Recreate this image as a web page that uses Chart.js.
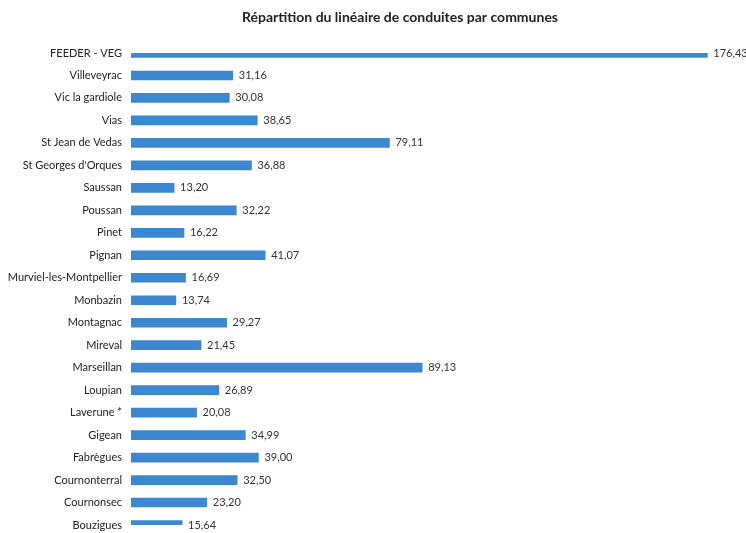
<!DOCTYPE html>
<html>
<head>
<meta charset="utf-8">
<script src="https://cdn.jsdelivr.net/npm/chart.js@4/dist/chart.umd.min.js"></script>
<style>
  html, body { margin: 0; padding: 0; background: #fff; overflow: hidden; }
  #wrap { width: 746px; height: 533px; position: relative; }
</style>
</head>
<body>
<div id="wrap"><canvas id="linChart"></canvas></div>
<script>
// Linéaire de conduites par commune (km)
const communes = [
    'FEEDER - VEG', 'Villeveyrac', 'Vic la gardiole', 'Vias', 'St Jean de Vedas',
    'St Georges d\'Orques', 'Saussan', 'Poussan', 'Pinet', 'Pignan',
    'Murviel-les-Montpellier', 'Monbazin', 'Montagnac', 'Mireval', 'Marseillan',
    'Loupian', 'Laverune *', 'Gigean', 'Fabrègues', 'Cournonterral',
    'Cournonsec', 'Bouzigues'
];
const lineaire = [
    176.43, 31.16, 30.08, 38.65, 79.11,
    36.88, 13.20, 32.22, 16.22, 41.07,
    16.69, 13.74, 29.27, 21.45, 89.13,
    26.89, 20.08, 34.99, 39.00, 32.50,
    23.20, 15.64
];
const titre = 'Répartition du linéaire de conduites par communes';

const fontFamily = 'Lato, "Open Sans", sans-serif';

// value labels at the end of each bar
const valueLabels = {
    id: 'valueLabels',
    afterDatasetsDraw(chart) {
        const ctx = chart.ctx;
        const meta = chart.getDatasetMeta(0);
        ctx.save();
        ctx.font = '11px ' + fontFamily;
        ctx.fillStyle = '#333';
        ctx.textAlign = 'left';
        ctx.textBaseline = 'middle';
        meta.data.forEach((bar, i) => {
            const txt = lineaire[i].toFixed(2).replace('.', ',');
            ctx.fillText(txt, bar.x + 6, bar.y);
        });
        ctx.restore();
    }
};

// title drawn over the plot
const titlePlugin = {
    id: 'titlePlugin',
    afterDraw(chart) {
        const ctx = chart.ctx;
        ctx.save();
        ctx.font = 'bold 14px ' + fontFamily;
        ctx.fillStyle = '#222';
        ctx.textAlign = 'center';
        ctx.textBaseline = 'middle';
        ctx.fillText(titre, 400, 17);
        ctx.restore();
    }
};

const ctx = document.getElementById('linChart').getContext('2d');
const linChart = new Chart(ctx, {
    type: 'bar',
    data: {
        labels: communes,
        datasets: [{
            data: lineaire,
            backgroundColor: '#3b87d0',
            borderWidth: 0,
            barThickness: 9
        }]
    },
    options: {
        indexAxis: 'y',
        responsive: true,
        maintainAspectRatio: false,
        animation: false,
        layout: {
            padding: { top: 53, bottom: 8, left: 0, right: 27 }
        },
        plugins: {
            legend: { display: false },
            tooltip: { enabled: false }
        },
        scales: {
            x: {
                display: false,
                min: 0,
                max: 180
            },
            y: {
                offset: false,
                grid: { display: false, drawTicks: false },
                border: { display: false },
                ticks: {
                    color: '#222',
                    padding: 9,
                    font: { family: fontFamily, size: 11 }
                },
                afterFit(scale) {
                    scale.width = 131;
                    scale.paddingTop = 0;
                    scale.paddingBottom = 0;
                }
            }
        }
    },
    plugins: [valueLabels, titlePlugin]
});
</script>
</body>
</html>
